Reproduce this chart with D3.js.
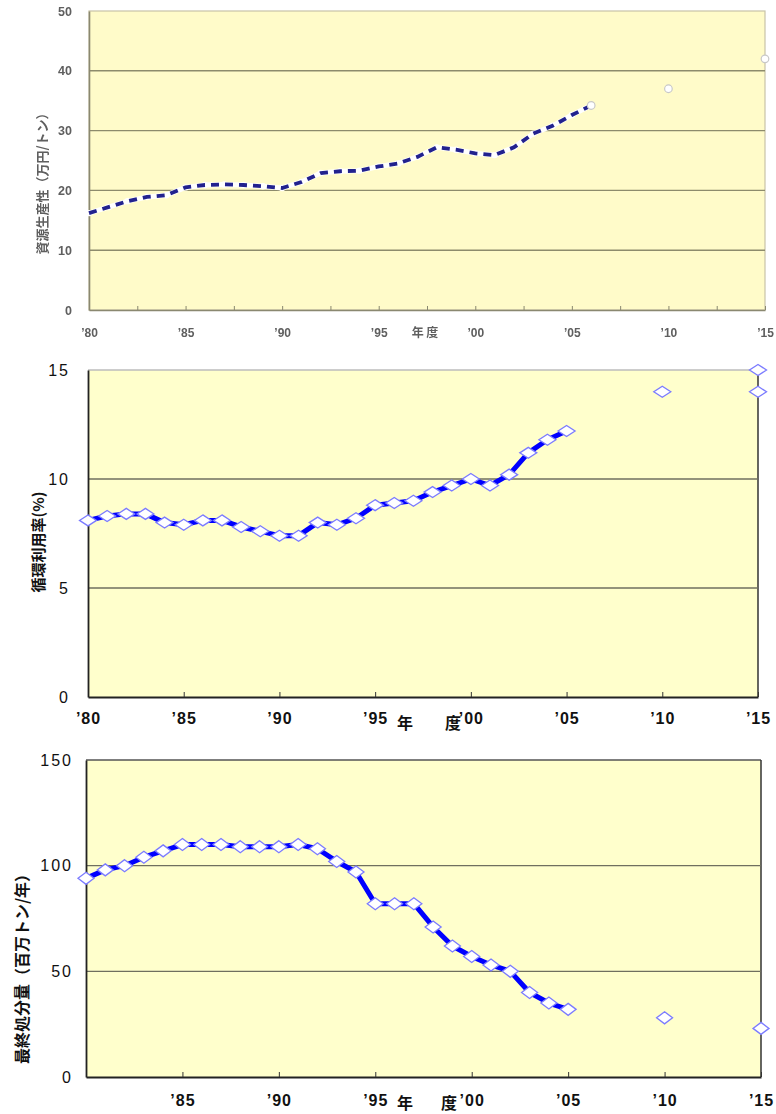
<!DOCTYPE html>
<html>
<head>
<meta charset="utf-8">
<script src="https://cdn.jsdelivr.net/npm/d3@7"></script>
<style>
  html, body { margin: 0; padding: 0; background: #fff; }
  svg { display: block; }
</style>
</head>
<body>
<svg id="chart" width="776" height="1114"></svg>
<script>
// ---- Data ----
// Resource productivity (万円/トン), FY1980–2006, with targets for 2010 and 2015
const productivityYears = [1980,1981,1982,1983,1984,1985,1986,1987,1988,1989,1990,1991,1992,1993,1994,1995,1996,1997,1998,1999,2000,2001,2002,2003,2004,2005,2006];
const productivityValues = [16.2,17.2,18.2,18.9,19.2,20.5,20.9,21.0,20.9,20.7,20.4,21.4,22.9,23.2,23.3,24.0,24.5,25.6,27.2,26.8,26.2,25.9,27.2,29.5,30.8,32.6,34.2];
const productivityTargetYears = [2010, 2015];
const productivityTargets = [37, 42];

// Cyclical use rate (%), FY1980–2005, with targets
const cycleYears = [1980,1981,1982,1983,1984,1985,1986,1987,1988,1989,1990,1991,1992,1993,1994,1995,1996,1997,1998,1999,2000,2001,2002,2003,2004,2005];
const cycleValues = [8.1,8.3,8.4,8.4,8.0,7.9,8.1,8.1,7.8,7.6,7.4,7.4,8.0,7.9,8.2,8.8,8.9,9.0,9.4,9.7,10.0,9.7,10.2,11.2,11.8,12.2];
const cycleTargetYears = [2010, 2015, 2015];
const cycleTargets = [14, 14, 15];

// Final disposal amount (百万トン/年), FY1980–2005, with targets
const disposalYears = [1980,1981,1982,1983,1984,1985,1986,1987,1988,1989,1990,1991,1992,1993,1994,1995,1996,1997,1998,1999,2000,2001,2002,2003,2004,2005];
const disposalValues = [94,98,100,104,107,110,110,110,109,109,109,110,108,102,97,82,82,82,71,62,57,53,50,40,35,32];
const disposalTargetYears = [2010, 2015];
const disposalTargets = [28, 23];

// Tick values and labels
const yearTicksMajor = [1980,1985,1990,1995,2000,2005,2010,2015];
const yearTicksHalf = [1980,1982.5,1985,1987.5,1990,1992.5,1995,1997.5,2000,2002.5,2005,2007.5,2010,2012.5,2015];
const productivityTicks = [0,10,20,30,40,50];
const cycleTicks = [0,5,10,15];
const disposalTicks = [0,50,100,150];
const yearLabel = y => "\u2019" + String(y).slice(2);

const svg = d3.select("#chart");
const defs = svg.append("defs");
defs.append("filter").attr("id", "soft")
  .attr("x", "-5%").attr("y", "-5%").attr("width", "110%").attr("height", "110%")
  .append("feGaussianBlur").attr("stdDeviation", 0.75);

const numFont = "'Liberation Sans', Arial, sans-serif";
const jpFont = "'Noto Sans CJK JP', 'Noto Sans', sans-serif";

// Diamond marker path for a given width/height
function diamond(w, h) {
  return `M0,${-h/2}L${w/2},0L0,${h/2}L${-w/2},0Z`;
}

// ---------- Chart 1: resource productivity ----------
(function () {
  const g = svg.append("g").attr("filter", "url(#soft)");
  const x = d3.scaleLinear().domain([1980, 2015]).range([89, 765]);
  const y = d3.scaleLinear().domain([0, 50]).range([310, 11]);
  const [x0, x1] = x.range(), [y0, y1] = y.range();

  g.append("rect").attr("x", x0).attr("y", y1).attr("width", x1 - x0).attr("height", y0 - y1)
    .attr("fill", "#fffbc9").attr("stroke", "#c8c4a8").attr("stroke-width", 1.2);

  g.append("g").selectAll("line").data(productivityTicks.filter(d => d > 0 && d < 50)).join("line")
    .attr("x1", x0).attr("x2", x1).attr("y1", d => y(d)).attr("y2", d => y(d))
    .attr("stroke", "#8d8b6c").attr("stroke-width", 1.4);

  const xAxis = d3.axisBottom(x).tickValues(yearTicksHalf)
    .tickSizeInner(-4).tickSizeOuter(0).tickPadding(18)
    .tickFormat(d => Number.isInteger(d / 5) ? yearLabel(d) : "");
  const xa = g.append("g").attr("transform", `translate(0,${y0})`).call(xAxis);
  xa.select(".domain").attr("stroke", "#8a8870").attr("stroke-width", 1.6);
  xa.selectAll(".tick line").attr("stroke", "#8a8870");
  xa.selectAll("text").attr("fill", "#5e5e5e").style("font", `bold 12px ${numFont}`);

  const yAxis = d3.axisLeft(y).tickValues(productivityTicks).tickSize(0).tickPadding(17);
  const ya = g.append("g").attr("transform", `translate(${x0},0)`).call(yAxis);
  ya.select(".domain").attr("stroke", "#8a8870").attr("stroke-width", 1.6);
  ya.selectAll("text").attr("fill", "#5e5e5e").style("font", `bold 12.5px ${numFont}`);

  const pts = productivityYears.map((yr, i) => [yr, productivityValues[i]]);
  const line = d3.line().x(d => x(d[0])).y(d => y(d[1]));
  g.append("path").attr("d", line(pts)).attr("fill", "none")
    .attr("stroke", "#ffffff").attr("stroke-width", 5);
  g.append("g").selectAll("circle").data(pts).join("circle")
    .attr("cx", d => x(d[0])).attr("cy", d => y(d[1])).attr("r", 3.2)
    .attr("fill", "#ffffff");
  g.append("path").attr("d", line(pts)).attr("fill", "none")
    .attr("stroke", "#24248e").attr("stroke-width", 3.8).attr("stroke-dasharray", "8,6");

  const tgt = productivityTargetYears.map((yr, i) => [yr, productivityTargets[i]]);
  g.append("g").selectAll("circle").data(tgt.concat([pts[pts.length - 1]])).join("circle")
    .attr("cx", d => x(d[0])).attr("cy", d => y(d[1])).attr("r", 3.8)
    .attr("fill", "#ffffff").attr("stroke", "#c8c8c8").attr("stroke-width", 1.2);

  g.append("text").attr("transform", `translate(47,${(y0 + y1) / 2 + 20}) rotate(-90)`)
    .attr("text-anchor", "middle").attr("fill", "#5e5e5e")
    .style("font", `bold 13px ${jpFont}`).text("資源生産性（万円/トン）");
  g.append("text").attr("x", 425).attr("y", 337).attr("text-anchor", "middle")
    .attr("fill", "#5e5e5e").style("font", `bold 12px ${jpFont}`).text("年 度");
})();

// ---------- Shared drawing for the two diamond charts ----------
function diamondChart(opts) {
  const g = svg.append("g");
  const x = d3.scaleLinear().domain([1980, 2015]).range(opts.xr);
  const y = d3.scaleLinear().domain(opts.yd).range(opts.yr);
  const [x0, x1] = x.range(), [y0, y1] = y.range();

  g.append("rect").attr("x", x0).attr("y", y1).attr("width", x1 - x0).attr("height", y0 - y1)
    .attr("fill", "#ffffcc");
  g.append("line").attr("x1", x0).attr("x2", x1).attr("y1", y1).attr("y2", y1)
    .attr("stroke", opts.topStroke).attr("stroke-width", 1.5);
  g.append("line").attr("x1", x1).attr("x2", x1).attr("y1", y1).attr("y2", y0)
    .attr("stroke", "#333").attr("stroke-width", 1.5);

  g.append("g").selectAll("line").data(opts.ticks.filter(d => d > opts.yd[0] && d < opts.yd[1])).join("line")
    .attr("x1", x0).attr("x2", x1).attr("y1", d => y(d)).attr("y2", d => y(d))
    .attr("stroke", "#6f6f5f").attr("stroke-width", 1.3);

  const xAxis = d3.axisBottom(x).tickValues(opts.xTicks)
    .tickSizeInner(-5).tickSizeOuter(0).tickPadding(opts.xPad).tickFormat(yearLabel);
  const xa = g.append("g").attr("transform", `translate(0,${y0})`).call(xAxis);
  xa.select(".domain").attr("stroke", "#222").attr("stroke-width", 1.8);
  xa.selectAll(".tick line").attr("stroke", "#333");
  xa.selectAll("text").attr("fill", "#111")
    .style("font", `bold 16px ${numFont}`).style("letter-spacing", "1px");

  const yAxis = d3.axisLeft(y).tickValues(opts.ticks).tickSize(0).tickPadding(opts.yPad);
  const ya = g.append("g").attr("transform", `translate(${x0},0)`).call(yAxis);
  ya.select(".domain").attr("stroke", "#222").attr("stroke-width", 1.8);
  ya.selectAll("text").attr("fill", "#111")
    .style("font", `16px ${numFont}`).style("letter-spacing", "2px");

  const pts = opts.years.map((yr, i) => [yr, opts.values[i]]);
  const line = d3.line().x(d => x(d[0])).y(d => y(d[1]));
  g.append("path").attr("d", line(pts)).attr("fill", "none")
    .attr("stroke", "#0000ff").attr("stroke-width", 5).attr("stroke-linejoin", "round");

  const tgt = opts.tYears.map((yr, i) => [yr, opts.tValues[i]]);
  g.append("g").selectAll("path").data(pts.concat(tgt)).join("path")
    .attr("transform", d => `translate(${x(d[0])},${y(d[1])})`)
    .attr("d", diamond(opts.mw, opts.mh))
    .attr("fill", "#ffffff").attr("stroke", "#7b7bff").attr("stroke-width", 1.3);

  g.append("text").attr("transform", `translate(${opts.titleX},${opts.titleY}) rotate(-90)`)
    .attr("text-anchor", "middle").attr("fill", "#111")
    .style("font", `bold ${opts.titleSize}px ${jpFont}`).text(opts.title);
  g.append("text").attr("x", 405).attr("y", opts.nenY).attr("text-anchor", "middle")
    .attr("fill", "#111").style("font", `bold 16px ${jpFont}`).text("年");
  g.append("text").attr("x", opts.doX).attr("y", opts.nenY).attr("text-anchor", "middle")
    .attr("fill", "#111").style("font", `bold 16px ${jpFont}`).text("度");
}

// ---------- Chart 2: cyclical use rate ----------
diamondChart({
  xr: [88, 758], yd: [0, 15], yr: [697, 370],
  ticks: cycleTicks, xTicks: yearTicksMajor, xPad: 16, yPad: 18,
  years: cycleYears, values: cycleValues, tYears: cycleTargetYears, tValues: cycleTargets,
  mw: 17, mh: 11, topStroke: "#bdbdbd",
  title: "循環利用率(%)", titleX: 44, titleY: 542, titleSize: 15,
  nenY: 729, doX: 453
});

// ---------- Chart 3: final disposal amount ----------
diamondChart({
  xr: [86, 761], yd: [0, 150], yr: [1077, 760],
  ticks: disposalTicks, xTicks: yearTicksMajor.filter(d => d > 1980), xPad: 18, yPad: 13,
  years: disposalYears, values: disposalValues, tYears: disposalTargetYears, tValues: disposalTargets,
  mw: 16, mh: 12, topStroke: "#555",
  title: "最終処分量（百万トン/年）", titleX: 28, titleY: 965, titleSize: 16,
  nenY: 1109, doX: 449
});
</script>
</body>
</html>
